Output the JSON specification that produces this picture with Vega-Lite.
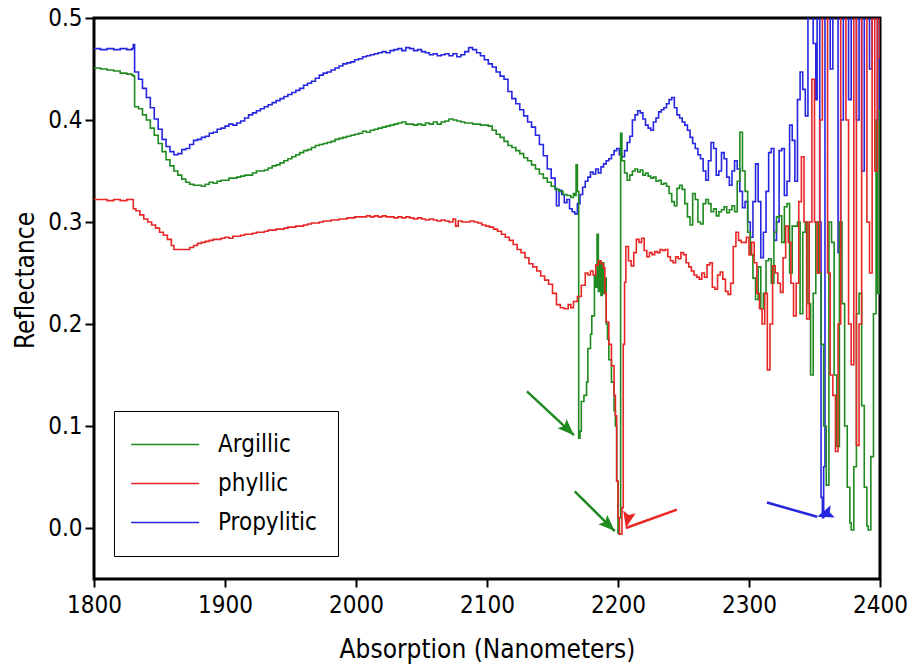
{
  "$schema": "https://vega.github.io/schema/vega-lite/v6.json",
  "width": 786,
  "height": 561,
  "autosize": {"type": "none"},
  "padding": {"left": 94, "top": 18, "right": 32, "bottom": 86},
  "background": "white",
  "config": {
    "font": "DejaVu Sans Condensed",
    "view": {"stroke": "black", "strokeWidth": 3},
    "axis": {"domain": false, "grid": false, "tickColor": "black", "tickWidth": 2, "labelColor": "black", "titleColor": "black", "labelFontSize": 24, "titleFontSize": 26, "titleFontWeight": "normal", "labelFont": "DejaVu Sans Condensed", "titleFont": "DejaVu Sans Condensed", "labelFlush": false, "labelOverlap": false}
  },
  "datasets": {
    "spectra": [
      {"nm":1800,"R":0.470,"type":"Propylitic"},{"nm":1805,"R":0.469,"type":"Propylitic"},{"nm":1810,"R":0.470,"type":"Propylitic"},{"nm":1815,"R":0.469,"type":"Propylitic"},{"nm":1820,"R":0.470,"type":"Propylitic"},{"nm":1825,"R":0.469,"type":"Propylitic"},{"nm":1829,"R":0.470,"type":"Propylitic"},{"nm":1830,"R":0.474,"type":"Propylitic"},{"nm":1831,"R":0.447,"type":"Propylitic"},{"nm":1834,"R":0.440,"type":"Propylitic"},{"nm":1837,"R":0.431,"type":"Propylitic"},{"nm":1840,"R":0.422,"type":"Propylitic"},{"nm":1843,"R":0.412,"type":"Propylitic"},{"nm":1846,"R":0.401,"type":"Propylitic"},{"nm":1849,"R":0.391,"type":"Propylitic"},{"nm":1852,"R":0.381,"type":"Propylitic"},{"nm":1855,"R":0.374,"type":"Propylitic"},{"nm":1858,"R":0.369,"type":"Propylitic"},{"nm":1861,"R":0.366,"type":"Propylitic"},{"nm":1864,"R":0.367,"type":"Propylitic"},{"nm":1867,"R":0.371,"type":"Propylitic"},{"nm":1870,"R":0.372,"type":"Propylitic"},{"nm":1873,"R":0.376,"type":"Propylitic"},{"nm":1876,"R":0.380,"type":"Propylitic"},{"nm":1879,"R":0.381,"type":"Propylitic"},{"nm":1882,"R":0.383,"type":"Propylitic"},{"nm":1885,"R":0.384,"type":"Propylitic"},{"nm":1888,"R":0.387,"type":"Propylitic"},{"nm":1891,"R":0.388,"type":"Propylitic"},{"nm":1894,"R":0.391,"type":"Propylitic"},{"nm":1897,"R":0.392,"type":"Propylitic"},{"nm":1900,"R":0.394,"type":"Propylitic"},{"nm":1903,"R":0.396,"type":"Propylitic"},{"nm":1906,"R":0.395,"type":"Propylitic"},{"nm":1909,"R":0.397,"type":"Propylitic"},{"nm":1912,"R":0.399,"type":"Propylitic"},{"nm":1915,"R":0.402,"type":"Propylitic"},{"nm":1918,"R":0.405,"type":"Propylitic"},{"nm":1921,"R":0.407,"type":"Propylitic"},{"nm":1924,"R":0.409,"type":"Propylitic"},{"nm":1927,"R":0.411,"type":"Propylitic"},{"nm":1930,"R":0.413,"type":"Propylitic"},{"nm":1933,"R":0.415,"type":"Propylitic"},{"nm":1936,"R":0.417,"type":"Propylitic"},{"nm":1939,"R":0.419,"type":"Propylitic"},{"nm":1942,"R":0.421,"type":"Propylitic"},{"nm":1945,"R":0.423,"type":"Propylitic"},{"nm":1948,"R":0.425,"type":"Propylitic"},{"nm":1951,"R":0.427,"type":"Propylitic"},{"nm":1954,"R":0.429,"type":"Propylitic"},{"nm":1957,"R":0.431,"type":"Propylitic"},{"nm":1960,"R":0.434,"type":"Propylitic"},{"nm":1963,"R":0.436,"type":"Propylitic"},{"nm":1966,"R":0.438,"type":"Propylitic"},{"nm":1969,"R":0.441,"type":"Propylitic"},{"nm":1972,"R":0.444,"type":"Propylitic"},{"nm":1975,"R":0.446,"type":"Propylitic"},{"nm":1978,"R":0.447,"type":"Propylitic"},{"nm":1981,"R":0.449,"type":"Propylitic"},{"nm":1984,"R":0.451,"type":"Propylitic"},{"nm":1987,"R":0.453,"type":"Propylitic"},{"nm":1990,"R":0.455,"type":"Propylitic"},{"nm":1993,"R":0.456,"type":"Propylitic"},{"nm":1996,"R":0.457,"type":"Propylitic"},{"nm":1999,"R":0.459,"type":"Propylitic"},{"nm":2002,"R":0.460,"type":"Propylitic"},{"nm":2005,"R":0.462,"type":"Propylitic"},{"nm":2008,"R":0.463,"type":"Propylitic"},{"nm":2011,"R":0.464,"type":"Propylitic"},{"nm":2014,"R":0.465,"type":"Propylitic"},{"nm":2017,"R":0.466,"type":"Propylitic"},{"nm":2020,"R":0.467,"type":"Propylitic"},{"nm":2023,"R":0.466,"type":"Propylitic"},{"nm":2026,"R":0.468,"type":"Propylitic"},{"nm":2029,"R":0.469,"type":"Propylitic"},{"nm":2032,"R":0.470,"type":"Propylitic"},{"nm":2035,"R":0.468,"type":"Propylitic"},{"nm":2038,"R":0.471,"type":"Propylitic"},{"nm":2041,"R":0.470,"type":"Propylitic"},{"nm":2044,"R":0.468,"type":"Propylitic"},{"nm":2047,"R":0.469,"type":"Propylitic"},{"nm":2050,"R":0.467,"type":"Propylitic"},{"nm":2053,"R":0.466,"type":"Propylitic"},{"nm":2056,"R":0.464,"type":"Propylitic"},{"nm":2059,"R":0.465,"type":"Propylitic"},{"nm":2062,"R":0.463,"type":"Propylitic"},{"nm":2065,"R":0.464,"type":"Propylitic"},{"nm":2068,"R":0.465,"type":"Propylitic"},{"nm":2071,"R":0.463,"type":"Propylitic"},{"nm":2074,"R":0.465,"type":"Propylitic"},{"nm":2077,"R":0.462,"type":"Propylitic"},{"nm":2080,"R":0.464,"type":"Propylitic"},{"nm":2083,"R":0.467,"type":"Propylitic"},{"nm":2086,"R":0.471,"type":"Propylitic"},{"nm":2089,"R":0.469,"type":"Propylitic"},{"nm":2092,"R":0.466,"type":"Propylitic"},{"nm":2095,"R":0.463,"type":"Propylitic"},{"nm":2098,"R":0.459,"type":"Propylitic"},{"nm":2101,"R":0.455,"type":"Propylitic"},{"nm":2104,"R":0.452,"type":"Propylitic"},{"nm":2107,"R":0.447,"type":"Propylitic"},{"nm":2110,"R":0.443,"type":"Propylitic"},{"nm":2113,"R":0.440,"type":"Propylitic"},{"nm":2116,"R":0.428,"type":"Propylitic"},{"nm":2119,"R":0.421,"type":"Propylitic"},{"nm":2122,"R":0.416,"type":"Propylitic"},{"nm":2125,"R":0.410,"type":"Propylitic"},{"nm":2128,"R":0.404,"type":"Propylitic"},{"nm":2131,"R":0.398,"type":"Propylitic"},{"nm":2134,"R":0.393,"type":"Propylitic"},{"nm":2137,"R":0.385,"type":"Propylitic"},{"nm":2140,"R":0.376,"type":"Propylitic"},{"nm":2143,"R":0.365,"type":"Propylitic"},{"nm":2146,"R":0.352,"type":"Propylitic"},{"nm":2149,"R":0.343,"type":"Propylitic"},{"nm":2152,"R":0.333,"type":"Propylitic"},{"nm":2153,"R":0.316,"type":"Propylitic"},{"nm":2155,"R":0.331,"type":"Propylitic"},{"nm":2157,"R":0.327,"type":"Propylitic"},{"nm":2159,"R":0.319,"type":"Propylitic"},{"nm":2161,"R":0.322,"type":"Propylitic"},{"nm":2163,"R":0.313,"type":"Propylitic"},{"nm":2165,"R":0.310,"type":"Propylitic"},{"nm":2167,"R":0.308,"type":"Propylitic"},{"nm":2169,"R":0.318,"type":"Propylitic"},{"nm":2171,"R":0.327,"type":"Propylitic"},{"nm":2173,"R":0.334,"type":"Propylitic"},{"nm":2175,"R":0.340,"type":"Propylitic"},{"nm":2177,"R":0.344,"type":"Propylitic"},{"nm":2179,"R":0.349,"type":"Propylitic"},{"nm":2181,"R":0.347,"type":"Propylitic"},{"nm":2183,"R":0.352,"type":"Propylitic"},{"nm":2185,"R":0.348,"type":"Propylitic"},{"nm":2187,"R":0.354,"type":"Propylitic"},{"nm":2189,"R":0.357,"type":"Propylitic"},{"nm":2191,"R":0.360,"type":"Propylitic"},{"nm":2193,"R":0.362,"type":"Propylitic"},{"nm":2195,"R":0.366,"type":"Propylitic"},{"nm":2197,"R":0.370,"type":"Propylitic"},{"nm":2199,"R":0.372,"type":"Propylitic"},{"nm":2201,"R":0.366,"type":"Propylitic"},{"nm":2203,"R":0.364,"type":"Propylitic"},{"nm":2205,"R":0.370,"type":"Propylitic"},{"nm":2207,"R":0.378,"type":"Propylitic"},{"nm":2209,"R":0.384,"type":"Propylitic"},{"nm":2211,"R":0.400,"type":"Propylitic"},{"nm":2213,"R":0.405,"type":"Propylitic"},{"nm":2215,"R":0.409,"type":"Propylitic"},{"nm":2217,"R":0.407,"type":"Propylitic"},{"nm":2219,"R":0.401,"type":"Propylitic"},{"nm":2221,"R":0.395,"type":"Propylitic"},{"nm":2223,"R":0.392,"type":"Propylitic"},{"nm":2225,"R":0.390,"type":"Propylitic"},{"nm":2227,"R":0.398,"type":"Propylitic"},{"nm":2229,"R":0.402,"type":"Propylitic"},{"nm":2231,"R":0.408,"type":"Propylitic"},{"nm":2233,"R":0.410,"type":"Propylitic"},{"nm":2235,"R":0.412,"type":"Propylitic"},{"nm":2237,"R":0.416,"type":"Propylitic"},{"nm":2239,"R":0.420,"type":"Propylitic"},{"nm":2241,"R":0.422,"type":"Propylitic"},{"nm":2243,"R":0.412,"type":"Propylitic"},{"nm":2245,"R":0.405,"type":"Propylitic"},{"nm":2247,"R":0.402,"type":"Propylitic"},{"nm":2249,"R":0.398,"type":"Propylitic"},{"nm":2251,"R":0.395,"type":"Propylitic"},{"nm":2253,"R":0.390,"type":"Propylitic"},{"nm":2255,"R":0.383,"type":"Propylitic"},{"nm":2257,"R":0.377,"type":"Propylitic"},{"nm":2259,"R":0.372,"type":"Propylitic"},{"nm":2261,"R":0.366,"type":"Propylitic"},{"nm":2263,"R":0.362,"type":"Propylitic"},{"nm":2265,"R":0.350,"type":"Propylitic"},{"nm":2267,"R":0.341,"type":"Propylitic"},{"nm":2269,"R":0.360,"type":"Propylitic"},{"nm":2271,"R":0.378,"type":"Propylitic"},{"nm":2273,"R":0.372,"type":"Propylitic"},{"nm":2275,"R":0.346,"type":"Propylitic"},{"nm":2277,"R":0.350,"type":"Propylitic"},{"nm":2279,"R":0.368,"type":"Propylitic"},{"nm":2281,"R":0.362,"type":"Propylitic"},{"nm":2283,"R":0.344,"type":"Propylitic"},{"nm":2285,"R":0.336,"type":"Propylitic"},{"nm":2287,"R":0.350,"type":"Propylitic"},{"nm":2289,"R":0.360,"type":"Propylitic"},{"nm":2291,"R":0.352,"type":"Propylitic"},{"nm":2293,"R":0.330,"type":"Propylitic"},{"nm":2295,"R":0.314,"type":"Propylitic"},{"nm":2297,"R":0.320,"type":"Propylitic"},{"nm":2299,"R":0.300,"type":"Propylitic"},{"nm":2301,"R":0.285,"type":"Propylitic"},{"nm":2303,"R":0.320,"type":"Propylitic"},{"nm":2305,"R":0.357,"type":"Propylitic"},{"nm":2307,"R":0.320,"type":"Propylitic"},{"nm":2309,"R":0.265,"type":"Propylitic"},{"nm":2311,"R":0.290,"type":"Propylitic"},{"nm":2313,"R":0.330,"type":"Propylitic"},{"nm":2315,"R":0.368,"type":"Propylitic"},{"nm":2317,"R":0.372,"type":"Propylitic"},{"nm":2319,"R":0.282,"type":"Propylitic"},{"nm":2321,"R":0.300,"type":"Propylitic"},{"nm":2323,"R":0.370,"type":"Propylitic"},{"nm":2325,"R":0.372,"type":"Propylitic"},{"nm":2327,"R":0.326,"type":"Propylitic"},{"nm":2329,"R":0.340,"type":"Propylitic"},{"nm":2331,"R":0.395,"type":"Propylitic"},{"nm":2333,"R":0.380,"type":"Propylitic"},{"nm":2335,"R":0.340,"type":"Propylitic"},{"nm":2337,"R":0.420,"type":"Propylitic"},{"nm":2339,"R":0.447,"type":"Propylitic"},{"nm":2341,"R":0.430,"type":"Propylitic"},{"nm":2343,"R":0.404,"type":"Propylitic"},{"nm":2345,"R":0.500,"type":"Propylitic"},{"nm":2346,"R":0.560,"type":"Propylitic"},{"nm":2348,"R":0.560,"type":"Propylitic"},{"nm":2349,"R":0.475,"type":"Propylitic"},{"nm":2351,"R":0.420,"type":"Propylitic"},{"nm":2352,"R":0.560,"type":"Propylitic"},{"nm":2354,"R":0.300,"type":"Propylitic"},{"nm":2355,"R":0.030,"type":"Propylitic"},{"nm":2356,"R":0.010,"type":"Propylitic"},{"nm":2357,"R":0.060,"type":"Propylitic"},{"nm":2358,"R":0.560,"type":"Propylitic"},{"nm":2360,"R":0.560,"type":"Propylitic"},{"nm":2362,"R":0.450,"type":"Propylitic"},{"nm":2364,"R":0.560,"type":"Propylitic"},{"nm":2366,"R":0.560,"type":"Propylitic"},{"nm":2368,"R":0.270,"type":"Propylitic"},{"nm":2370,"R":0.400,"type":"Propylitic"},{"nm":2372,"R":0.560,"type":"Propylitic"},{"nm":2374,"R":0.560,"type":"Propylitic"},{"nm":2376,"R":0.420,"type":"Propylitic"},{"nm":2378,"R":0.560,"type":"Propylitic"},{"nm":2380,"R":0.560,"type":"Propylitic"},{"nm":2382,"R":0.400,"type":"Propylitic"},{"nm":2384,"R":0.560,"type":"Propylitic"},{"nm":2386,"R":0.350,"type":"Propylitic"},{"nm":2388,"R":0.560,"type":"Propylitic"},{"nm":2390,"R":0.560,"type":"Propylitic"},{"nm":2392,"R":0.450,"type":"Propylitic"},{"nm":2394,"R":0.560,"type":"Propylitic"},{"nm":2396,"R":0.560,"type":"Propylitic"},{"nm":2398,"R":0.400,"type":"Propylitic"},{"nm":2400,"R":0.560,"type":"Propylitic"},

      {"nm":1800,"R":0.451,"type":"Argillic"},{"nm":1805,"R":0.450,"type":"Argillic"},{"nm":1810,"R":0.449,"type":"Argillic"},{"nm":1815,"R":0.448,"type":"Argillic"},{"nm":1820,"R":0.446,"type":"Argillic"},{"nm":1825,"R":0.445,"type":"Argillic"},{"nm":1829,"R":0.444,"type":"Argillic"},{"nm":1830,"R":0.443,"type":"Argillic"},{"nm":1831,"R":0.413,"type":"Argillic"},{"nm":1834,"R":0.411,"type":"Argillic"},{"nm":1837,"R":0.405,"type":"Argillic"},{"nm":1840,"R":0.400,"type":"Argillic"},{"nm":1843,"R":0.392,"type":"Argillic"},{"nm":1846,"R":0.385,"type":"Argillic"},{"nm":1849,"R":0.377,"type":"Argillic"},{"nm":1852,"R":0.369,"type":"Argillic"},{"nm":1855,"R":0.361,"type":"Argillic"},{"nm":1858,"R":0.355,"type":"Argillic"},{"nm":1861,"R":0.350,"type":"Argillic"},{"nm":1864,"R":0.346,"type":"Argillic"},{"nm":1867,"R":0.342,"type":"Argillic"},{"nm":1870,"R":0.339,"type":"Argillic"},{"nm":1873,"R":0.337,"type":"Argillic"},{"nm":1876,"R":0.336,"type":"Argillic"},{"nm":1879,"R":0.336,"type":"Argillic"},{"nm":1882,"R":0.335,"type":"Argillic"},{"nm":1885,"R":0.337,"type":"Argillic"},{"nm":1888,"R":0.339,"type":"Argillic"},{"nm":1891,"R":0.338,"type":"Argillic"},{"nm":1894,"R":0.340,"type":"Argillic"},{"nm":1897,"R":0.341,"type":"Argillic"},{"nm":1900,"R":0.341,"type":"Argillic"},{"nm":1903,"R":0.343,"type":"Argillic"},{"nm":1906,"R":0.343,"type":"Argillic"},{"nm":1909,"R":0.344,"type":"Argillic"},{"nm":1912,"R":0.345,"type":"Argillic"},{"nm":1915,"R":0.346,"type":"Argillic"},{"nm":1918,"R":0.346,"type":"Argillic"},{"nm":1921,"R":0.348,"type":"Argillic"},{"nm":1924,"R":0.350,"type":"Argillic"},{"nm":1927,"R":0.350,"type":"Argillic"},{"nm":1930,"R":0.351,"type":"Argillic"},{"nm":1933,"R":0.353,"type":"Argillic"},{"nm":1936,"R":0.355,"type":"Argillic"},{"nm":1939,"R":0.356,"type":"Argillic"},{"nm":1942,"R":0.358,"type":"Argillic"},{"nm":1945,"R":0.360,"type":"Argillic"},{"nm":1948,"R":0.362,"type":"Argillic"},{"nm":1951,"R":0.364,"type":"Argillic"},{"nm":1954,"R":0.366,"type":"Argillic"},{"nm":1957,"R":0.368,"type":"Argillic"},{"nm":1960,"R":0.370,"type":"Argillic"},{"nm":1963,"R":0.371,"type":"Argillic"},{"nm":1966,"R":0.373,"type":"Argillic"},{"nm":1969,"R":0.375,"type":"Argillic"},{"nm":1972,"R":0.376,"type":"Argillic"},{"nm":1975,"R":0.377,"type":"Argillic"},{"nm":1978,"R":0.378,"type":"Argillic"},{"nm":1981,"R":0.379,"type":"Argillic"},{"nm":1984,"R":0.381,"type":"Argillic"},{"nm":1987,"R":0.382,"type":"Argillic"},{"nm":1990,"R":0.383,"type":"Argillic"},{"nm":1993,"R":0.384,"type":"Argillic"},{"nm":1996,"R":0.385,"type":"Argillic"},{"nm":1999,"R":0.386,"type":"Argillic"},{"nm":2002,"R":0.387,"type":"Argillic"},{"nm":2005,"R":0.389,"type":"Argillic"},{"nm":2008,"R":0.388,"type":"Argillic"},{"nm":2011,"R":0.390,"type":"Argillic"},{"nm":2014,"R":0.391,"type":"Argillic"},{"nm":2017,"R":0.392,"type":"Argillic"},{"nm":2020,"R":0.393,"type":"Argillic"},{"nm":2023,"R":0.394,"type":"Argillic"},{"nm":2026,"R":0.395,"type":"Argillic"},{"nm":2029,"R":0.396,"type":"Argillic"},{"nm":2032,"R":0.397,"type":"Argillic"},{"nm":2035,"R":0.398,"type":"Argillic"},{"nm":2038,"R":0.396,"type":"Argillic"},{"nm":2041,"R":0.396,"type":"Argillic"},{"nm":2044,"R":0.395,"type":"Argillic"},{"nm":2047,"R":0.396,"type":"Argillic"},{"nm":2050,"R":0.395,"type":"Argillic"},{"nm":2053,"R":0.397,"type":"Argillic"},{"nm":2056,"R":0.396,"type":"Argillic"},{"nm":2059,"R":0.398,"type":"Argillic"},{"nm":2062,"R":0.396,"type":"Argillic"},{"nm":2065,"R":0.398,"type":"Argillic"},{"nm":2068,"R":0.399,"type":"Argillic"},{"nm":2071,"R":0.401,"type":"Argillic"},{"nm":2074,"R":0.400,"type":"Argillic"},{"nm":2077,"R":0.399,"type":"Argillic"},{"nm":2080,"R":0.398,"type":"Argillic"},{"nm":2083,"R":0.397,"type":"Argillic"},{"nm":2086,"R":0.397,"type":"Argillic"},{"nm":2089,"R":0.396,"type":"Argillic"},{"nm":2092,"R":0.396,"type":"Argillic"},{"nm":2095,"R":0.395,"type":"Argillic"},{"nm":2098,"R":0.395,"type":"Argillic"},{"nm":2101,"R":0.394,"type":"Argillic"},{"nm":2104,"R":0.390,"type":"Argillic"},{"nm":2107,"R":0.386,"type":"Argillic"},{"nm":2110,"R":0.383,"type":"Argillic"},{"nm":2113,"R":0.379,"type":"Argillic"},{"nm":2116,"R":0.375,"type":"Argillic"},{"nm":2119,"R":0.373,"type":"Argillic"},{"nm":2122,"R":0.370,"type":"Argillic"},{"nm":2125,"R":0.367,"type":"Argillic"},{"nm":2128,"R":0.363,"type":"Argillic"},{"nm":2131,"R":0.360,"type":"Argillic"},{"nm":2134,"R":0.356,"type":"Argillic"},{"nm":2137,"R":0.352,"type":"Argillic"},{"nm":2140,"R":0.347,"type":"Argillic"},{"nm":2143,"R":0.343,"type":"Argillic"},{"nm":2146,"R":0.339,"type":"Argillic"},{"nm":2149,"R":0.335,"type":"Argillic"},{"nm":2152,"R":0.332,"type":"Argillic"},{"nm":2155,"R":0.330,"type":"Argillic"},{"nm":2158,"R":0.327,"type":"Argillic"},{"nm":2161,"R":0.326,"type":"Argillic"},{"nm":2164,"R":0.324,"type":"Argillic"},{"nm":2166,"R":0.328,"type":"Argillic"},{"nm":2167,"R":0.326,"type":"Argillic"},{"nm":2168,"R":0.356,"type":"Argillic"},{"nm":2169,"R":0.330,"type":"Argillic"},{"nm":2170,"R":0.088,"type":"Argillic"},{"nm":2171,"R":0.095,"type":"Argillic"},{"nm":2172,"R":0.124,"type":"Argillic"},{"nm":2174,"R":0.130,"type":"Argillic"},{"nm":2176,"R":0.143,"type":"Argillic"},{"nm":2177,"R":0.176,"type":"Argillic"},{"nm":2179,"R":0.190,"type":"Argillic"},{"nm":2180,"R":0.208,"type":"Argillic"},{"nm":2182,"R":0.247,"type":"Argillic"},{"nm":2183,"R":0.236,"type":"Argillic"},{"nm":2184,"R":0.288,"type":"Argillic"},{"nm":2185,"R":0.232,"type":"Argillic"},{"nm":2186,"R":0.262,"type":"Argillic"},{"nm":2187,"R":0.228,"type":"Argillic"},{"nm":2188,"R":0.260,"type":"Argillic"},{"nm":2189,"R":0.230,"type":"Argillic"},{"nm":2190,"R":0.245,"type":"Argillic"},{"nm":2191,"R":0.200,"type":"Argillic"},{"nm":2192,"R":0.185,"type":"Argillic"},{"nm":2193,"R":0.165,"type":"Argillic"},{"nm":2195,"R":0.143,"type":"Argillic"},{"nm":2197,"R":0.115,"type":"Argillic"},{"nm":2198,"R":0.100,"type":"Argillic"},{"nm":2199,"R":0.046,"type":"Argillic"},{"nm":2200,"R":-0.005,"type":"Argillic"},{"nm":2201,"R":0.010,"type":"Argillic"},{"nm":2202,"R":0.387,"type":"Argillic"},{"nm":2203,"R":0.360,"type":"Argillic"},{"nm":2205,"R":0.348,"type":"Argillic"},{"nm":2207,"R":0.341,"type":"Argillic"},{"nm":2209,"R":0.346,"type":"Argillic"},{"nm":2211,"R":0.350,"type":"Argillic"},{"nm":2213,"R":0.352,"type":"Argillic"},{"nm":2215,"R":0.349,"type":"Argillic"},{"nm":2217,"R":0.351,"type":"Argillic"},{"nm":2219,"R":0.346,"type":"Argillic"},{"nm":2221,"R":0.348,"type":"Argillic"},{"nm":2223,"R":0.345,"type":"Argillic"},{"nm":2225,"R":0.343,"type":"Argillic"},{"nm":2227,"R":0.344,"type":"Argillic"},{"nm":2229,"R":0.340,"type":"Argillic"},{"nm":2231,"R":0.341,"type":"Argillic"},{"nm":2233,"R":0.337,"type":"Argillic"},{"nm":2235,"R":0.338,"type":"Argillic"},{"nm":2237,"R":0.335,"type":"Argillic"},{"nm":2239,"R":0.328,"type":"Argillic"},{"nm":2241,"R":0.320,"type":"Argillic"},{"nm":2243,"R":0.316,"type":"Argillic"},{"nm":2245,"R":0.333,"type":"Argillic"},{"nm":2247,"R":0.336,"type":"Argillic"},{"nm":2249,"R":0.332,"type":"Argillic"},{"nm":2251,"R":0.318,"type":"Argillic"},{"nm":2253,"R":0.305,"type":"Argillic"},{"nm":2255,"R":0.297,"type":"Argillic"},{"nm":2257,"R":0.328,"type":"Argillic"},{"nm":2259,"R":0.322,"type":"Argillic"},{"nm":2261,"R":0.300,"type":"Argillic"},{"nm":2263,"R":0.298,"type":"Argillic"},{"nm":2265,"R":0.318,"type":"Argillic"},{"nm":2267,"R":0.322,"type":"Argillic"},{"nm":2269,"R":0.318,"type":"Argillic"},{"nm":2271,"R":0.310,"type":"Argillic"},{"nm":2273,"R":0.313,"type":"Argillic"},{"nm":2275,"R":0.306,"type":"Argillic"},{"nm":2277,"R":0.310,"type":"Argillic"},{"nm":2279,"R":0.312,"type":"Argillic"},{"nm":2281,"R":0.315,"type":"Argillic"},{"nm":2283,"R":0.309,"type":"Argillic"},{"nm":2285,"R":0.312,"type":"Argillic"},{"nm":2287,"R":0.316,"type":"Argillic"},{"nm":2289,"R":0.310,"type":"Argillic"},{"nm":2291,"R":0.340,"type":"Argillic"},{"nm":2293,"R":0.388,"type":"Argillic"},{"nm":2295,"R":0.350,"type":"Argillic"},{"nm":2297,"R":0.330,"type":"Argillic"},{"nm":2299,"R":0.290,"type":"Argillic"},{"nm":2301,"R":0.268,"type":"Argillic"},{"nm":2303,"R":0.245,"type":"Argillic"},{"nm":2305,"R":0.224,"type":"Argillic"},{"nm":2307,"R":0.256,"type":"Argillic"},{"nm":2309,"R":0.215,"type":"Argillic"},{"nm":2311,"R":0.230,"type":"Argillic"},{"nm":2313,"R":0.262,"type":"Argillic"},{"nm":2315,"R":0.264,"type":"Argillic"},{"nm":2317,"R":0.240,"type":"Argillic"},{"nm":2319,"R":0.290,"type":"Argillic"},{"nm":2321,"R":0.305,"type":"Argillic"},{"nm":2323,"R":0.306,"type":"Argillic"},{"nm":2325,"R":0.280,"type":"Argillic"},{"nm":2327,"R":0.315,"type":"Argillic"},{"nm":2329,"R":0.318,"type":"Argillic"},{"nm":2331,"R":0.250,"type":"Argillic"},{"nm":2333,"R":0.296,"type":"Argillic"},{"nm":2335,"R":0.296,"type":"Argillic"},{"nm":2337,"R":0.300,"type":"Argillic"},{"nm":2339,"R":0.210,"type":"Argillic"},{"nm":2341,"R":0.290,"type":"Argillic"},{"nm":2343,"R":0.300,"type":"Argillic"},{"nm":2345,"R":0.220,"type":"Argillic"},{"nm":2347,"R":0.150,"type":"Argillic"},{"nm":2349,"R":0.230,"type":"Argillic"},{"nm":2351,"R":0.300,"type":"Argillic"},{"nm":2353,"R":0.250,"type":"Argillic"},{"nm":2355,"R":0.180,"type":"Argillic"},{"nm":2357,"R":0.100,"type":"Argillic"},{"nm":2359,"R":0.042,"type":"Argillic"},{"nm":2361,"R":0.300,"type":"Argillic"},{"nm":2363,"R":0.280,"type":"Argillic"},{"nm":2365,"R":0.150,"type":"Argillic"},{"nm":2367,"R":0.080,"type":"Argillic"},{"nm":2369,"R":0.300,"type":"Argillic"},{"nm":2371,"R":0.220,"type":"Argillic"},{"nm":2373,"R":0.100,"type":"Argillic"},{"nm":2375,"R":0.040,"type":"Argillic"},{"nm":2377,"R":0.005,"type":"Argillic"},{"nm":2378,"R":-0.002,"type":"Argillic"},{"nm":2380,"R":0.060,"type":"Argillic"},{"nm":2382,"R":0.210,"type":"Argillic"},{"nm":2384,"R":0.230,"type":"Argillic"},{"nm":2386,"R":0.120,"type":"Argillic"},{"nm":2388,"R":0.040,"type":"Argillic"},{"nm":2390,"R":0.002,"type":"Argillic"},{"nm":2391,"R":-0.002,"type":"Argillic"},{"nm":2393,"R":0.070,"type":"Argillic"},{"nm":2395,"R":0.210,"type":"Argillic"},{"nm":2397,"R":0.400,"type":"Argillic"},{"nm":2398,"R":0.230,"type":"Argillic"},{"nm":2400,"R":0.410,"type":"Argillic"},

      {"nm":1800,"R":0.322,"type":"phyllic"},{"nm":1805,"R":0.322,"type":"phyllic"},{"nm":1810,"R":0.321,"type":"phyllic"},{"nm":1815,"R":0.322,"type":"phyllic"},{"nm":1820,"R":0.321,"type":"phyllic"},{"nm":1825,"R":0.322,"type":"phyllic"},{"nm":1829,"R":0.322,"type":"phyllic"},{"nm":1830,"R":0.313,"type":"phyllic"},{"nm":1832,"R":0.311,"type":"phyllic"},{"nm":1835,"R":0.307,"type":"phyllic"},{"nm":1838,"R":0.303,"type":"phyllic"},{"nm":1841,"R":0.300,"type":"phyllic"},{"nm":1844,"R":0.297,"type":"phyllic"},{"nm":1847,"R":0.294,"type":"phyllic"},{"nm":1850,"R":0.290,"type":"phyllic"},{"nm":1853,"R":0.287,"type":"phyllic"},{"nm":1856,"R":0.283,"type":"phyllic"},{"nm":1859,"R":0.277,"type":"phyllic"},{"nm":1861,"R":0.273,"type":"phyllic"},{"nm":1864,"R":0.273,"type":"phyllic"},{"nm":1867,"R":0.273,"type":"phyllic"},{"nm":1870,"R":0.273,"type":"phyllic"},{"nm":1873,"R":0.275,"type":"phyllic"},{"nm":1876,"R":0.277,"type":"phyllic"},{"nm":1879,"R":0.279,"type":"phyllic"},{"nm":1882,"R":0.280,"type":"phyllic"},{"nm":1885,"R":0.281,"type":"phyllic"},{"nm":1888,"R":0.282,"type":"phyllic"},{"nm":1891,"R":0.283,"type":"phyllic"},{"nm":1894,"R":0.283,"type":"phyllic"},{"nm":1897,"R":0.284,"type":"phyllic"},{"nm":1900,"R":0.285,"type":"phyllic"},{"nm":1903,"R":0.284,"type":"phyllic"},{"nm":1906,"R":0.286,"type":"phyllic"},{"nm":1909,"R":0.286,"type":"phyllic"},{"nm":1912,"R":0.287,"type":"phyllic"},{"nm":1915,"R":0.288,"type":"phyllic"},{"nm":1918,"R":0.288,"type":"phyllic"},{"nm":1921,"R":0.289,"type":"phyllic"},{"nm":1924,"R":0.290,"type":"phyllic"},{"nm":1927,"R":0.290,"type":"phyllic"},{"nm":1930,"R":0.291,"type":"phyllic"},{"nm":1933,"R":0.292,"type":"phyllic"},{"nm":1936,"R":0.292,"type":"phyllic"},{"nm":1939,"R":0.293,"type":"phyllic"},{"nm":1942,"R":0.293,"type":"phyllic"},{"nm":1945,"R":0.294,"type":"phyllic"},{"nm":1948,"R":0.295,"type":"phyllic"},{"nm":1951,"R":0.295,"type":"phyllic"},{"nm":1954,"R":0.296,"type":"phyllic"},{"nm":1957,"R":0.296,"type":"phyllic"},{"nm":1960,"R":0.297,"type":"phyllic"},{"nm":1963,"R":0.298,"type":"phyllic"},{"nm":1966,"R":0.299,"type":"phyllic"},{"nm":1969,"R":0.299,"type":"phyllic"},{"nm":1972,"R":0.300,"type":"phyllic"},{"nm":1975,"R":0.301,"type":"phyllic"},{"nm":1978,"R":0.301,"type":"phyllic"},{"nm":1981,"R":0.302,"type":"phyllic"},{"nm":1984,"R":0.302,"type":"phyllic"},{"nm":1987,"R":0.303,"type":"phyllic"},{"nm":1990,"R":0.303,"type":"phyllic"},{"nm":1993,"R":0.304,"type":"phyllic"},{"nm":1996,"R":0.304,"type":"phyllic"},{"nm":1999,"R":0.305,"type":"phyllic"},{"nm":2002,"R":0.305,"type":"phyllic"},{"nm":2005,"R":0.305,"type":"phyllic"},{"nm":2008,"R":0.306,"type":"phyllic"},{"nm":2011,"R":0.305,"type":"phyllic"},{"nm":2014,"R":0.306,"type":"phyllic"},{"nm":2017,"R":0.305,"type":"phyllic"},{"nm":2020,"R":0.306,"type":"phyllic"},{"nm":2023,"R":0.305,"type":"phyllic"},{"nm":2026,"R":0.305,"type":"phyllic"},{"nm":2029,"R":0.304,"type":"phyllic"},{"nm":2032,"R":0.305,"type":"phyllic"},{"nm":2035,"R":0.304,"type":"phyllic"},{"nm":2038,"R":0.305,"type":"phyllic"},{"nm":2041,"R":0.304,"type":"phyllic"},{"nm":2044,"R":0.303,"type":"phyllic"},{"nm":2047,"R":0.304,"type":"phyllic"},{"nm":2050,"R":0.303,"type":"phyllic"},{"nm":2053,"R":0.302,"type":"phyllic"},{"nm":2056,"R":0.303,"type":"phyllic"},{"nm":2059,"R":0.302,"type":"phyllic"},{"nm":2062,"R":0.301,"type":"phyllic"},{"nm":2065,"R":0.302,"type":"phyllic"},{"nm":2068,"R":0.301,"type":"phyllic"},{"nm":2071,"R":0.300,"type":"phyllic"},{"nm":2074,"R":0.303,"type":"phyllic"},{"nm":2076,"R":0.296,"type":"phyllic"},{"nm":2078,"R":0.301,"type":"phyllic"},{"nm":2081,"R":0.300,"type":"phyllic"},{"nm":2084,"R":0.300,"type":"phyllic"},{"nm":2087,"R":0.301,"type":"phyllic"},{"nm":2090,"R":0.300,"type":"phyllic"},{"nm":2093,"R":0.299,"type":"phyllic"},{"nm":2096,"R":0.297,"type":"phyllic"},{"nm":2099,"R":0.296,"type":"phyllic"},{"nm":2102,"R":0.295,"type":"phyllic"},{"nm":2105,"R":0.293,"type":"phyllic"},{"nm":2108,"R":0.291,"type":"phyllic"},{"nm":2111,"R":0.288,"type":"phyllic"},{"nm":2114,"R":0.285,"type":"phyllic"},{"nm":2117,"R":0.282,"type":"phyllic"},{"nm":2120,"R":0.278,"type":"phyllic"},{"nm":2123,"R":0.273,"type":"phyllic"},{"nm":2126,"R":0.270,"type":"phyllic"},{"nm":2129,"R":0.265,"type":"phyllic"},{"nm":2132,"R":0.259,"type":"phyllic"},{"nm":2135,"R":0.256,"type":"phyllic"},{"nm":2138,"R":0.252,"type":"phyllic"},{"nm":2141,"R":0.247,"type":"phyllic"},{"nm":2144,"R":0.243,"type":"phyllic"},{"nm":2147,"R":0.239,"type":"phyllic"},{"nm":2150,"R":0.230,"type":"phyllic"},{"nm":2153,"R":0.219,"type":"phyllic"},{"nm":2156,"R":0.216,"type":"phyllic"},{"nm":2159,"R":0.215,"type":"phyllic"},{"nm":2162,"R":0.219,"type":"phyllic"},{"nm":2164,"R":0.216,"type":"phyllic"},{"nm":2166,"R":0.222,"type":"phyllic"},{"nm":2169,"R":0.227,"type":"phyllic"},{"nm":2172,"R":0.238,"type":"phyllic"},{"nm":2175,"R":0.250,"type":"phyllic"},{"nm":2177,"R":0.248,"type":"phyllic"},{"nm":2179,"R":0.252,"type":"phyllic"},{"nm":2181,"R":0.248,"type":"phyllic"},{"nm":2183,"R":0.258,"type":"phyllic"},{"nm":2185,"R":0.262,"type":"phyllic"},{"nm":2187,"R":0.259,"type":"phyllic"},{"nm":2189,"R":0.255,"type":"phyllic"},{"nm":2190,"R":0.230,"type":"phyllic"},{"nm":2191,"R":0.202,"type":"phyllic"},{"nm":2193,"R":0.180,"type":"phyllic"},{"nm":2195,"R":0.159,"type":"phyllic"},{"nm":2197,"R":0.130,"type":"phyllic"},{"nm":2198,"R":0.110,"type":"phyllic"},{"nm":2199,"R":0.046,"type":"phyllic"},{"nm":2200,"R":0.010,"type":"phyllic"},{"nm":2201,"R":-0.006,"type":"phyllic"},{"nm":2203,"R":0.020,"type":"phyllic"},{"nm":2204,"R":0.180,"type":"phyllic"},{"nm":2205,"R":0.241,"type":"phyllic"},{"nm":2206,"R":0.276,"type":"phyllic"},{"nm":2208,"R":0.262,"type":"phyllic"},{"nm":2210,"R":0.257,"type":"phyllic"},{"nm":2212,"R":0.270,"type":"phyllic"},{"nm":2214,"R":0.283,"type":"phyllic"},{"nm":2216,"R":0.280,"type":"phyllic"},{"nm":2218,"R":0.284,"type":"phyllic"},{"nm":2220,"R":0.272,"type":"phyllic"},{"nm":2222,"R":0.266,"type":"phyllic"},{"nm":2224,"R":0.270,"type":"phyllic"},{"nm":2226,"R":0.268,"type":"phyllic"},{"nm":2228,"R":0.271,"type":"phyllic"},{"nm":2230,"R":0.270,"type":"phyllic"},{"nm":2232,"R":0.273,"type":"phyllic"},{"nm":2234,"R":0.272,"type":"phyllic"},{"nm":2236,"R":0.273,"type":"phyllic"},{"nm":2238,"R":0.266,"type":"phyllic"},{"nm":2240,"R":0.262,"type":"phyllic"},{"nm":2242,"R":0.260,"type":"phyllic"},{"nm":2244,"R":0.266,"type":"phyllic"},{"nm":2246,"R":0.264,"type":"phyllic"},{"nm":2248,"R":0.270,"type":"phyllic"},{"nm":2250,"R":0.268,"type":"phyllic"},{"nm":2252,"R":0.260,"type":"phyllic"},{"nm":2254,"R":0.256,"type":"phyllic"},{"nm":2256,"R":0.252,"type":"phyllic"},{"nm":2258,"R":0.248,"type":"phyllic"},{"nm":2260,"R":0.246,"type":"phyllic"},{"nm":2262,"R":0.244,"type":"phyllic"},{"nm":2264,"R":0.250,"type":"phyllic"},{"nm":2266,"R":0.246,"type":"phyllic"},{"nm":2268,"R":0.258,"type":"phyllic"},{"nm":2270,"R":0.260,"type":"phyllic"},{"nm":2272,"R":0.236,"type":"phyllic"},{"nm":2274,"R":0.234,"type":"phyllic"},{"nm":2276,"R":0.248,"type":"phyllic"},{"nm":2278,"R":0.251,"type":"phyllic"},{"nm":2280,"R":0.244,"type":"phyllic"},{"nm":2282,"R":0.232,"type":"phyllic"},{"nm":2284,"R":0.229,"type":"phyllic"},{"nm":2286,"R":0.240,"type":"phyllic"},{"nm":2288,"R":0.276,"type":"phyllic"},{"nm":2290,"R":0.290,"type":"phyllic"},{"nm":2292,"R":0.282,"type":"phyllic"},{"nm":2294,"R":0.280,"type":"phyllic"},{"nm":2296,"R":0.280,"type":"phyllic"},{"nm":2298,"R":0.285,"type":"phyllic"},{"nm":2300,"R":0.268,"type":"phyllic"},{"nm":2302,"R":0.280,"type":"phyllic"},{"nm":2304,"R":0.260,"type":"phyllic"},{"nm":2306,"R":0.230,"type":"phyllic"},{"nm":2308,"R":0.215,"type":"phyllic"},{"nm":2310,"R":0.200,"type":"phyllic"},{"nm":2312,"R":0.230,"type":"phyllic"},{"nm":2314,"R":0.155,"type":"phyllic"},{"nm":2316,"R":0.200,"type":"phyllic"},{"nm":2318,"R":0.257,"type":"phyllic"},{"nm":2320,"R":0.250,"type":"phyllic"},{"nm":2322,"R":0.240,"type":"phyllic"},{"nm":2324,"R":0.231,"type":"phyllic"},{"nm":2326,"R":0.265,"type":"phyllic"},{"nm":2328,"R":0.296,"type":"phyllic"},{"nm":2330,"R":0.280,"type":"phyllic"},{"nm":2332,"R":0.240,"type":"phyllic"},{"nm":2334,"R":0.208,"type":"phyllic"},{"nm":2336,"R":0.240,"type":"phyllic"},{"nm":2338,"R":0.320,"type":"phyllic"},{"nm":2340,"R":0.364,"type":"phyllic"},{"nm":2342,"R":0.300,"type":"phyllic"},{"nm":2344,"R":0.205,"type":"phyllic"},{"nm":2346,"R":0.300,"type":"phyllic"},{"nm":2348,"R":0.440,"type":"phyllic"},{"nm":2350,"R":0.300,"type":"phyllic"},{"nm":2352,"R":0.250,"type":"phyllic"},{"nm":2354,"R":0.400,"type":"phyllic"},{"nm":2356,"R":0.560,"type":"phyllic"},{"nm":2358,"R":0.560,"type":"phyllic"},{"nm":2360,"R":0.250,"type":"phyllic"},{"nm":2362,"R":0.150,"type":"phyllic"},{"nm":2364,"R":0.130,"type":"phyllic"},{"nm":2366,"R":0.075,"type":"phyllic"},{"nm":2368,"R":0.200,"type":"phyllic"},{"nm":2370,"R":0.560,"type":"phyllic"},{"nm":2372,"R":0.560,"type":"phyllic"},{"nm":2374,"R":0.400,"type":"phyllic"},{"nm":2376,"R":0.200,"type":"phyllic"},{"nm":2378,"R":0.160,"type":"phyllic"},{"nm":2380,"R":0.560,"type":"phyllic"},{"nm":2382,"R":0.081,"type":"phyllic"},{"nm":2384,"R":0.200,"type":"phyllic"},{"nm":2386,"R":0.560,"type":"phyllic"},{"nm":2388,"R":0.560,"type":"phyllic"},{"nm":2390,"R":0.300,"type":"phyllic"},{"nm":2392,"R":0.250,"type":"phyllic"},{"nm":2394,"R":0.560,"type":"phyllic"},{"nm":2396,"R":0.350,"type":"phyllic"},{"nm":2398,"R":0.560,"type":"phyllic"},{"nm":2400,"R":0.460,"type":"phyllic"}
    ],
    "arrows": [
      {"x0":2130.5,"y0":0.134,"x1":2166.4,"y1":0.091,"type":"Argillic"},
      {"x0":2167,"y0":0.036,"x1":2197.5,"y1":-0.003,"type":"Argillic"},
      {"x0":2245,"y0":0.018,"x1":2206,"y1":0.0,"type":"phyllic"},
      {"x0":2313.7,"y0":0.025,"x1":2352,"y1":0.011,"type":"Propylitic"}
    ]
  },
  "layer": [
    {
      "data": {"name": "spectra"},
      "mark": {"type": "line", "interpolate": "step-after", "strokeWidth": 1.6, "clip": true},
      "encoding": {
        "x": {"field": "nm", "type": "quantitative", "scale": {"domain": [1800, 2400], "nice": false, "zero": false},
              "axis": {"title": "Absorption (Nanometers)", "values": [1800, 1900, 2000, 2100, 2200, 2300, 2400], "format": "d", "tickSize": 8, "labelPadding": 6, "titleY": 78, "titleBaseline": "alphabetic"}},
        "y": {"field": "R", "type": "quantitative", "scale": {"domain": [-0.05, 0.5], "nice": false, "zero": false},
              "axis": {"title": "Reflectance", "values": [0, 0.1, 0.2, 0.3, 0.4, 0.5], "format": ".1f", "tickSize": 9, "labelPadding": 3, "titleX": -61, "titleY": 262, "titleBaseline": "alphabetic"}},
        "color": {"field": "type", "type": "nominal",
                  "scale": {"domain": ["Argillic", "phyllic", "Propylitic"], "range": ["#1f8a1f", "#e82626", "#2626e0"]},
                  "legend": {"title": null, "orient": "none", "legendX": 20, "legendY": 393, "symbolType": "M-1.44,0H4.56", "symbolSize": 514, "symbolStrokeWidth": 1.6, "labelFontSize": 24, "labelColor": "black", "labelOffset": 58, "strokeColor": "black", "fillColor": "white", "padding": 21, "rowPadding": 14, "labelFont": "DejaVu Sans Condensed"}},
        "detail": {"field": "type"}
      }
    },
    {
      "data": {"name": "arrows"},
      "mark": {"type": "rule", "strokeWidth": 2.5},
      "encoding": {
        "x": {"field": "x0", "type": "quantitative"},
        "y": {"field": "y0", "type": "quantitative"},
        "x2": {"field": "x1"},
        "y2": {"field": "y1"},
        "color": {"field": "type", "type": "nominal"}
      }
    },
    {
      "data": {"name": "arrows"},
      "mark": {"type": "point", "filled": true, "opacity": 1, "shape": "M0,0L-0.5,1.3L0,1.05L0.5,1.3Z"},
      "encoding": {
        "x": {"field": "x1", "type": "quantitative"},
        "y": {"field": "y1", "type": "quantitative"},
        "color": {"field": "type", "type": "nominal"},
        "size": {"value": 650},
        "angle": {"field": "type", "type": "nominal", "scale": {"domain": ["Argillic", "phyllic", "Propylitic"], "range": [134, 251, 107]}, "legend": null}
      }
    }
  ]
}
